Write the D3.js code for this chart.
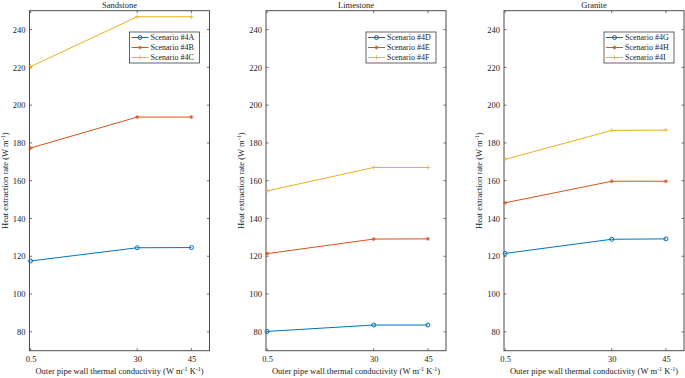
<!DOCTYPE html>
<html><head><meta charset="utf-8">
<script src="https://cdn.jsdelivr.net/npm/d3@7"></script>
<style>
html,body{margin:0;padding:0;background:#fff;}
svg{display:block;font-family:"Liberation Serif","Times New Roman",serif;}
</style></head>
<body><svg id="c" width="685" height="378"></svg>
<script>
const conductivity = [0.5, 30, 45];
const xTicks = [0.5, 30, 45];
const yTicks = [80, 100, 120, 140, 160, 180, 200, 220, 240];
const rockTypes = ["Sandstone", "Limestone", "Granite"];
const scenarioNames = [
  ["Scenario #4A", "Scenario #4B", "Scenario #4C"],
  ["Scenario #4D", "Scenario #4E", "Scenario #4F"],
  ["Scenario #4G", "Scenario #4H", "Scenario #4I"]
];
const sandstone = [[117.5, 124.5, 124.6], [177.3, 193.7, 193.7], [220.4, 246.8, 246.8]];
const limestone = [[80.2, 83.6, 83.6], [121.4, 129.1, 129.2], [154.6, 167.0, 167.0]];
const granite   = [[121.5, 129.0, 129.2], [148.3, 159.7, 159.7], [171.3, 186.6, 186.8]];
const panelData = [sandstone, limestone, granite];
const colors = ["#0072BD", "#D95319", "#EDB120"];
const markers = ["circle", "star", "plus"];

(function () {
const svg = d3.select("#c");
const panelLefts = [29.5, 266, 504];
const W = 180, plotTop = 10.7, plotBottom = 350.7;
const axisColor = "#4d4d4d";

function drawMarker(g, type, x, y, color) {
  if (type === "circle") {
    g.append("circle").attr("cx", x).attr("cy", y).attr("r", 2)
      .attr("fill", "none").attr("stroke", color).attr("stroke-width", 1);
  } else if (type === "star") {
    const s = 2;
    const p = d3.path();
    p.moveTo(x - s, y); p.lineTo(x + s, y);
    p.moveTo(x, y - s); p.lineTo(x, y + s);
    p.moveTo(x - s*0.7, y - s*0.7); p.lineTo(x + s*0.7, y + s*0.7);
    p.moveTo(x - s*0.7, y + s*0.7); p.lineTo(x + s*0.7, y - s*0.7);
    g.append("path").attr("d", p.toString()).attr("stroke", color).attr("stroke-width", 0.8).attr("fill", "none");
  } else {
    const s = 2.2;
    const p = d3.path();
    p.moveTo(x - s, y); p.lineTo(x + s, y);
    p.moveTo(x, y - s); p.lineTo(x, y + s);
    g.append("path").attr("d", p.toString()).attr("stroke", color).attr("stroke-width", 0.8).attr("fill", "none");
  }
}

rockTypes.forEach((rock, pi) => {
  const L = panelLefts[pi];
  const x = d3.scaleLinear().domain([0.2, 50]).range([L, L + W]);
  const y = d3.scaleLinear().domain([70, 250]).range([plotBottom, plotTop]);
  const g = svg.append("g");

  g.append("rect").attr("x", L).attr("y", plotTop).attr("width", W).attr("height", plotBottom - plotTop)
    .attr("fill", "none").attr("stroke", axisColor).attr("stroke-width", 1);

  const tl = 2.5;
  const ax = d3.axisBottom(x).tickValues(xTicks).tickSize(0).tickFormat(d3.format("~g"));
  const gx = g.append("g").attr("transform", `translate(0,${plotBottom})`).call(ax);
  gx.select(".domain").remove();
  gx.selectAll("text").attr("dy", null).attr("y", 11).attr("font-size", 8.5)
    .attr("font-family", "Liberation Serif").attr("fill", "#222");
  const ay = d3.axisLeft(y).tickValues(yTicks).tickSize(0);
  const gy = g.append("g").attr("transform", `translate(${L},0)`).call(ay);
  gy.select(".domain").remove();
  gy.selectAll("text").attr("x", -4).attr("dy", "0.32em").attr("font-size", 8.5)
    .attr("font-family", "Liberation Serif").attr("fill", "#222");

  xTicks.forEach(t => {
    g.append("line").attr("x1", x(t)).attr("x2", x(t)).attr("y1", plotBottom).attr("y2", plotBottom - tl).attr("stroke", axisColor).attr("stroke-width", 0.8);
    g.append("line").attr("x1", x(t)).attr("x2", x(t)).attr("y1", plotTop).attr("y2", plotTop + tl).attr("stroke", axisColor).attr("stroke-width", 0.8);
  });
  yTicks.forEach(t => {
    g.append("line").attr("x1", L).attr("x2", L + tl).attr("y1", y(t)).attr("y2", y(t)).attr("stroke", axisColor).attr("stroke-width", 0.8);
    g.append("line").attr("x1", L + W).attr("x2", L + W - tl).attr("y1", y(t)).attr("y2", y(t)).attr("stroke", axisColor).attr("stroke-width", 0.8);
  });

  g.append("text").attr("x", L + W / 2).attr("y", 8).attr("text-anchor", "middle")
    .attr("font-size", 8.5).attr("fill", "#222").text(rock);

  const xl = g.append("text").attr("x", L + W / 2).attr("y", 374).attr("text-anchor", "middle")
    .attr("font-size", 8.5).attr("fill", "#222");
  xl.append("tspan").text("Outer pipe wall thermal conductivity (W m");
  xl.append("tspan").attr("font-size", 6).attr("dy", -3).text("-1");
  xl.append("tspan").attr("dy", 3).text(" K");
  xl.append("tspan").attr("font-size", 6).attr("dy", -3).text("-1");
  xl.append("tspan").attr("dy", 3).text(")");

  const yl = g.append("text").attr("transform", `translate(${L - 22},${(plotTop + plotBottom) / 2}) rotate(-90)`)
    .attr("text-anchor", "middle").attr("font-size", 8.5).attr("fill", "#222");
  yl.append("tspan").text("Heat extraction rate (W m");
  yl.append("tspan").attr("font-size", 6).attr("dy", -3).text("-1");
  yl.append("tspan").attr("dy", 3).text(")");

  const line = d3.line().x((d, i) => x(conductivity[i])).y(d => y(d));
  panelData[pi].forEach((vals, si) => {
    g.append("path").datum(vals).attr("d", line).attr("fill", "none")
      .attr("stroke", colors[si]).attr("stroke-width", 1);
    vals.forEach((v, i) => drawMarker(g, markers[si], x(conductivity[i]), y(v), colors[si]));
  });

  const lx = L + W - 80, ly = 32, lw = 70, lh = 31;
  g.append("rect").attr("x", lx).attr("y", ly).attr("width", lw).attr("height", lh)
    .attr("fill", "#fff").attr("stroke", "#222").attr("stroke-width", 0.7);
  scenarioNames[pi].forEach((nm, si) => {
    const yy = ly + 5.5 + si * 10;
    g.append("line").attr("x1", lx + 2).attr("x2", lx + 19).attr("y1", yy).attr("y2", yy)
      .attr("stroke", colors[si]).attr("stroke-width", 1);
    drawMarker(g, markers[si], lx + 10.5, yy, colors[si]);
    g.append("text").attr("x", lx + 21).attr("y", yy).attr("dy", "0.32em")
      .attr("font-size", 8).attr("fill", "#222").text(nm);
  });
});
})();
</script></body></html>
